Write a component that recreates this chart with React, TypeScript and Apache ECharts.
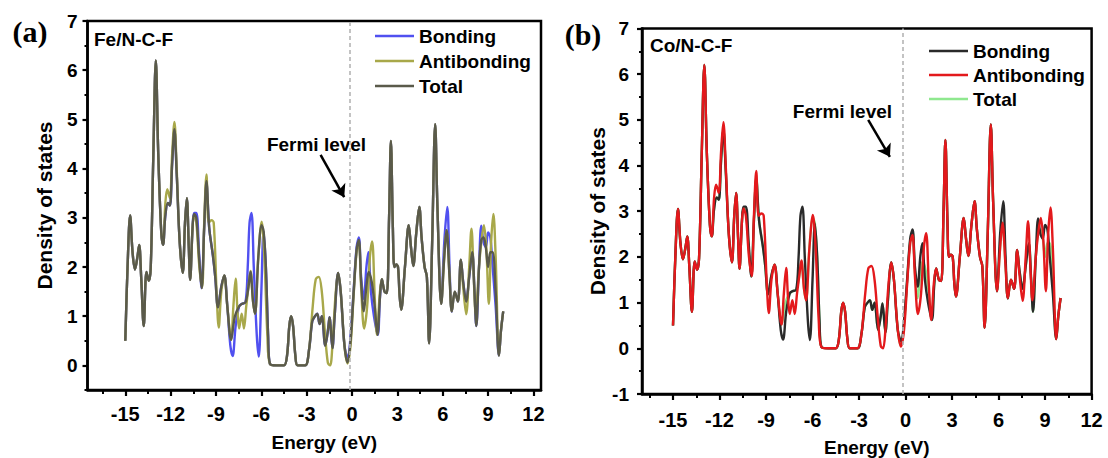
import React, { useEffect, useRef } from "react";
import * as echarts from "echarts";

// ---------------- data (energy in eV, density of states) ----------------
const X_MAJOR = [-15, -12, -9, -6, -3, 0, 3, 6, 9, 12];
const X_MINOR = [-16.5, -13.5, -10.5, -7.5, -4.5, -1.5, 1.5, 4.5, 7.5, 10.5];
const Y_MAJOR_A = [0, 1, 2, 3, 4, 5, 6, 7];
const Y_MINOR_A = [-0.5, 0.5, 1.5, 2.5, 3.5, 4.5, 5.5, 6.5];
const Y_MAJOR_B = [-1, 0, 1, 2, 3, 4, 5, 6, 7];
const Y_MINOR_B = [-0.5, 0.5, 1.5, 2.5, 3.5, 4.5, 5.5, 6.5];

const FERMI_LEVEL = -0.15;

const bonding: [number, number][] = [
  [-15, 0.5], [-14.85, 2.0], [-14.68, 3.05], [-14.52, 2.3], [-14.36, 1.95], [-14.2, 2.2], [-14.08, 2.45],
  [-13.95, 1.8], [-13.78, 0.8], [-13.6, 1.9], [-13.45, 1.72], [-13.32, 1.97], [-13.15, 4.2], [-12.98, 6.2],
  [-12.82, 4.3], [-12.62, 2.7], [-12.5, 2.45], [-12.35, 3.05], [-12.18, 3.3], [-12.05, 3.25], [-11.9, 4.1],
  [-11.75, 4.78], [-11.6, 3.9], [-11.4, 2.5], [-11.2, 1.88], [-11.05, 2.9], [-10.93, 3.4], [-10.8, 2.4],
  [-10.71, 1.74], [-10.55, 2.8], [-10.45, 3.1], [-10.3, 3.1], [-10.12, 2.3], [-9.95, 1.57], [-9.78, 2.8],
  [-9.63, 3.7], [-9.45, 2.8], [-9.2, 2.22], [-9.05, 1.8], [-8.87, 1.18], [-8.65, 1.6], [-8.45, 1.83],
  [-8.25, 1.2], [-8.05, 0.4], [-7.9, 0.19], [-7.7, 0.8], [-7.47, 1.2], [-7.3, 1.25], [-7.05, 1.28],
  [-6.9, 2.0], [-6.78, 2.9], [-6.65, 3.1], [-6.5, 2.0], [-6.3, 0.6], [-6.17, 0.18], [-6.0, 1.5],
  [-5.85, 2.73], [-5.7, 2.0], [-5.55, 0.6], [-5.43, 0.03], [-5.0, 0], [-4.5, 0], [-4.3, 0.2], [-4.15, 0.8],
  [-4.03, 1.0], [-3.9, 0.8], [-3.75, 0.2], [-3.6, 0], [-3.1, 0], [-2.84, 0.33], [-2.63, 0.9], [-2.45, 1.0],
  [-2.3, 1.05], [-2.15, 0.84], [-2.0, 1.0], [-1.77, 0.4], [-1.6, 0.7], [-1.49, 0.98], [-1.3, 0.35],
  [-1.15, 1.0], [-0.92, 1.88], [-0.75, 1.5], [-0.5, 0.4], [-0.28, 0.15], [-0.1, 0.6], [0.1, 1.5], [0.3, 2.4],
  [0.45, 2.6], [0.6, 1.8], [0.78, 1.35], [0.95, 2.0], [1.08, 2.3], [1.25, 1.5], [1.45, 1.0], [1.7, 0.62],
  [1.85, 1.4], [1.97, 1.75], [2.15, 1.5], [2.3, 1.47], [2.45, 3.0], [2.57, 4.56], [2.7, 2.8], [2.8, 2.0],
  [2.92, 2.05], [3.04, 2.0], [3.15, 1.4], [3.25, 1.13], [3.5, 2.0], [3.75, 2.85], [3.9, 2.4], [4.05, 2.02],
  [4.25, 2.7], [4.45, 3.22], [4.6, 2.6], [4.8, 2.0], [4.95, 1.8], [5.1, 0.45], [5.3, 2.5], [5.5, 4.9],
  [5.65, 3.2], [5.9, 1.25], [6.1, 2.5], [6.3, 3.22], [6.45, 2.0], [6.6, 1.09], [6.8, 1.5], [7.0, 1.3],
  [7.2, 2.15], [7.35, 1.7], [7.55, 1.3], [7.75, 1.8], [7.95, 2.3], [8.1, 1.5], [8.22, 0.8], [8.4, 2.0],
  [8.55, 2.84], [8.7, 2.5], [8.85, 2.4], [9.0, 2.7], [9.15, 2.6], [9.3, 2.0], [9.5, 1.2], [9.72, 0.2],
  [9.85, 0.7], [10.0, 1.1],
];

const antibonding: [number, number][] = [
  [-15, 0.5], [-14.85, 2.0], [-14.68, 3.05], [-14.52, 2.3], [-14.36, 1.95], [-14.2, 2.2], [-14.08, 2.45],
  [-13.95, 1.8], [-13.78, 0.8], [-13.6, 1.9], [-13.45, 1.72], [-13.32, 1.97], [-13.15, 4.2], [-12.98, 6.2],
  [-12.82, 4.3], [-12.62, 2.7], [-12.5, 2.45], [-12.35, 3.3], [-12.22, 3.58], [-12.05, 3.4], [-11.9, 4.3],
  [-11.75, 4.95], [-11.6, 4.0], [-11.4, 2.5], [-11.2, 1.88], [-11.05, 2.9], [-10.93, 3.4], [-10.8, 2.4],
  [-10.71, 1.74], [-10.55, 2.8], [-10.45, 3.06], [-10.3, 2.9], [-10.1, 2.0], [-9.92, 1.58], [-9.78, 2.9],
  [-9.63, 3.88], [-9.48, 2.9], [-9.3, 2.95], [-9.15, 2.9], [-8.95, 1.4], [-8.82, 0.77], [-8.65, 1.5],
  [-8.45, 1.83], [-8.25, 1.2], [-8.0, 0.52], [-7.85, 1.2], [-7.7, 1.76], [-7.58, 1.1], [-7.47, 0.75],
  [-7.3, 1.05], [-7.15, 0.75], [-7.0, 1.2], [-6.85, 1.6], [-6.72, 1.92], [-6.55, 1.3], [-6.42, 1.05],
  [-6.2, 2.2], [-5.98, 2.92], [-5.8, 2.2], [-5.6, 0.6], [-5.43, 0.03], [-5.0, 0], [-4.5, 0], [-4.3, 0.2],
  [-4.15, 0.8], [-4.03, 1.0], [-3.9, 0.8], [-3.75, 0.2], [-3.6, 0], [-3.1, 0], [-2.85, 0.3], [-2.6, 1.2],
  [-2.4, 1.75], [-2.2, 1.8], [-2.0, 1.5], [-1.8, 0.7], [-1.6, 0.05], [-1.45, 0.0], [-1.3, 0.4], [-1.1, 1.4],
  [-0.92, 1.88], [-0.75, 1.5], [-0.5, 0.4], [-0.3, 0.04], [-0.1, 0.4], [0.1, 1.4], [0.3, 2.3], [0.45, 2.48],
  [0.6, 1.6], [0.8, 0.75], [1.0, 1.2], [1.18, 2.2], [1.33, 2.52], [1.5, 1.4], [1.65, 0.62], [1.82, 1.4],
  [1.97, 1.75], [2.15, 1.5], [2.3, 1.47], [2.45, 3.0], [2.57, 4.56], [2.7, 2.8], [2.8, 2.0], [2.92, 2.05],
  [3.04, 2.0], [3.15, 1.4], [3.25, 1.13], [3.5, 2.0], [3.75, 2.85], [3.9, 2.4], [4.05, 2.02], [4.25, 2.7],
  [4.45, 3.22], [4.6, 2.6], [4.8, 2.0], [4.95, 1.8], [5.1, 0.45], [5.3, 2.5], [5.5, 4.9], [5.65, 3.2],
  [5.9, 1.25], [6.1, 2.2], [6.25, 2.75], [6.45, 1.8], [6.6, 1.1], [6.8, 1.5], [7.0, 1.3], [7.2, 2.15],
  [7.35, 1.6], [7.55, 1.04], [7.75, 2.0], [7.9, 2.78], [8.05, 1.8], [8.18, 1.05], [8.4, 2.0], [8.55, 2.5],
  [8.72, 2.85], [8.88, 2.4], [9.05, 1.25], [9.2, 2.5], [9.35, 3.08], [9.5, 2.2], [9.72, 0.2], [9.85, 0.7],
  [10.0, 1.1],
];

const total: [number, number][] = [
  [-15, 0.5], [-14.85, 2.0], [-14.68, 3.05], [-14.52, 2.3], [-14.36, 1.95], [-14.2, 2.2], [-14.08, 2.45],
  [-13.95, 1.8], [-13.78, 0.8], [-13.6, 1.9], [-13.45, 1.72], [-13.32, 1.97], [-13.15, 4.2], [-12.98, 6.2],
  [-12.82, 4.3], [-12.62, 2.7], [-12.5, 2.45], [-12.35, 3.05], [-12.18, 3.3], [-12.05, 3.25], [-11.9, 4.1],
  [-11.75, 4.8], [-11.6, 3.9], [-11.4, 2.5], [-11.2, 1.88], [-11.05, 2.9], [-10.93, 3.4], [-10.8, 2.4],
  [-10.71, 1.74], [-10.55, 2.8], [-10.45, 3.08], [-10.3, 3.0], [-10.12, 2.2], [-9.95, 1.57], [-9.78, 2.8],
  [-9.63, 3.75], [-9.45, 2.8], [-9.2, 2.22], [-9.05, 1.8], [-8.87, 1.18], [-8.65, 1.6], [-8.45, 1.83],
  [-8.25, 1.2], [-8.0, 0.52], [-7.75, 1.0], [-7.47, 1.2], [-7.3, 1.25], [-7.05, 1.28], [-6.85, 1.6],
  [-6.72, 1.9], [-6.55, 1.3], [-6.42, 1.05], [-6.2, 2.2], [-5.98, 2.85], [-5.85, 2.73], [-5.7, 2.0],
  [-5.55, 0.6], [-5.43, 0.03], [-5.0, 0], [-4.5, 0], [-4.3, 0.2], [-4.15, 0.8], [-4.03, 1.0], [-3.9, 0.8],
  [-3.75, 0.2], [-3.6, 0], [-3.1, 0], [-2.84, 0.33], [-2.63, 0.9], [-2.45, 1.0], [-2.3, 1.05], [-2.15, 0.84],
  [-2.0, 1.0], [-1.77, 0.4], [-1.6, 0.7], [-1.49, 0.98], [-1.3, 0.35], [-1.15, 1.0], [-0.92, 1.88],
  [-0.75, 1.5], [-0.5, 0.4], [-0.3, 0.06], [-0.1, 0.5], [0.1, 1.45], [0.3, 2.35], [0.45, 2.55], [0.6, 1.7],
  [0.78, 1.1], [0.95, 1.6], [1.1, 1.9], [1.3, 1.7], [1.5, 1.2], [1.68, 0.62], [1.85, 1.4], [1.97, 1.75],
  [2.15, 1.5], [2.3, 1.47], [2.45, 3.0], [2.57, 4.56], [2.7, 2.8], [2.8, 2.0], [2.92, 2.05], [3.04, 2.0],
  [3.15, 1.4], [3.25, 1.13], [3.5, 2.0], [3.75, 2.85], [3.9, 2.4], [4.05, 2.02], [4.25, 2.7], [4.45, 3.22],
  [4.6, 2.6], [4.8, 2.0], [4.95, 1.8], [5.1, 0.45], [5.3, 2.5], [5.5, 4.9], [5.65, 3.2], [5.9, 1.25],
  [6.1, 2.2], [6.25, 2.75], [6.45, 1.8], [6.6, 1.1], [6.8, 1.5], [7.0, 1.3], [7.2, 2.15], [7.35, 1.7],
  [7.55, 1.3], [7.75, 1.8], [7.95, 2.3], [8.1, 1.5], [8.22, 0.8], [8.4, 2.0], [8.55, 2.55], [8.7, 2.6],
  [8.85, 2.4], [9.0, 2.0], [9.15, 2.3], [9.3, 2.3], [9.5, 1.5], [9.72, 0.2], [9.85, 0.7], [10.0, 1.1],
];

// annotation anchors (data coordinates)
const FERMI_TEXT_A: [number, number] = [-2.35, 4.48];
const FERMI_ARROW_A: [number, number][] = [[-2.08, 4.28], [-0.52, 3.42]];
const FERMI_TEXT_B: [number, number] = [-4.07, 5.19];
const FERMI_ARROW_B: [number, number][] = [[-2.41, 5.0], [-1.01, 4.19]];

const SANS = "'Liberation Sans', Arial, Helvetica, sans-serif";
const SERIF = "'Liberation Serif', 'Times New Roman', serif";

const COLORS_A = { bonding: "#5050f0", antibonding: "#a8a84a", total: "#5a5a4a" };
const COLORS_B = { bonding: "#2a2a2a", antibonding: "#e3191c", total: "#8fe88f" };

function xAxes(gridIndex: number, min: number, max: number, labelMargin: number, nameGap: number) {
  return [
    {
      type: "value", gridIndex, min, max, position: "bottom",
      axisLine: { show: true, onZero: false, lineStyle: { color: "#000", width: 2.5 } },
      axisTick: { show: true, inside: false, length: 6, customValues: X_MAJOR, lineStyle: { color: "#000", width: 2.2 } },
      axisLabel: {
        customValues: X_MAJOR, margin: labelMargin, color: "#000", fontSize: 20, fontWeight: "bold", fontFamily: SANS,
        alignMinLabel: "center", alignMaxLabel: "center", hideOverlap: false,
      },
      splitLine: { show: false },
      name: "Energy (eV)", nameLocation: "middle", nameGap,
      nameTextStyle: { color: "#000", fontSize: 19, fontWeight: "bold", fontFamily: SANS, padding: [0, 0, 0, 20] },
    },
    {
      type: "value", gridIndex, min, max, position: "bottom",
      axisLine: { show: false, onZero: false },
      axisTick: { show: true, inside: false, length: 4, customValues: X_MINOR, lineStyle: { color: "#000", width: 2 } },
      axisLabel: { show: false },
      splitLine: { show: false },
    },
  ];
}

function yAxes(gridIndex: number, min: number, max: number, major: number[], minor: number[], labelMargin: number) {
  return [
    {
      type: "value", gridIndex, min, max, position: "left",
      axisLine: { show: true, onZero: false, lineStyle: { color: "#000", width: 2.5 } },
      axisTick: { show: true, inside: false, length: 5, customValues: major, lineStyle: { color: "#000", width: 2.2 } },
      axisLabel: { customValues: major, margin: labelMargin, color: "#000", fontSize: 19, fontWeight: "bold", fontFamily: SANS },
      splitLine: { show: false },
      name: "Density of states", nameLocation: "middle", nameGap: 33,
      nameTextStyle: { color: "#000", fontSize: 21, fontWeight: "bold", fontFamily: SANS },
    },
    {
      type: "value", gridIndex, min, max, position: "left",
      axisLine: { show: false, onZero: false },
      axisTick: { show: true, inside: false, length: 3, customValues: minor, lineStyle: { color: "#000", width: 2 } },
      axisLabel: { show: false },
      splitLine: { show: false },
    },
  ];
}

function lineSeries(name: string, data: [number, number][], color: string, xi: number, yi: number, z: number, extra: any = {}) {
  return {
    type: "line", name, data, xAxisIndex: xi, yAxisIndex: yi, z,
    showSymbol: false, symbol: "none", smooth: 0.35, silent: true,
    lineStyle: { color, width: 2.4 }, itemStyle: { color },
    ...extra,
  };
}

function fermiLine() {
  return {
    silent: true, symbol: ["none", "none"], label: { show: false },
    lineStyle: { color: "#b5b5b5", type: [4, 3], width: 1.6 },
    data: [{ xAxis: FERMI_LEVEL }],
  };
}

function arrowLine(pts: [number, number][]) {
  return {
    silent: true, symbol: ["none", "arrow"], symbolSize: 12, label: { show: false },
    lineStyle: { color: "#000", type: "solid", width: 2.5 },
    itemStyle: { color: "#000" },
    data: [[{ coord: pts[0] }, { coord: pts[1] }]],
  };
}

function legend(left: number, top: number, gap: number, colors: any) {
  return {
    left, top, orient: "vertical", icon: "rect", itemWidth: 39, itemHeight: 2.5, itemGap: gap,
    padding: 0, selectedMode: false,
    textStyle: { color: "#000", fontSize: 19, fontWeight: "bold", fontFamily: SANS },
    data: [
      { name: "Bonding", itemStyle: { color: colors.bonding } },
      { name: "Antibonding", itemStyle: { color: colors.antibonding } },
      { name: "Total", itemStyle: { color: colors.total } },
    ],
  };
}

export default function App() {
  const ref = useRef<HTMLDivElement>(null);
  useEffect(() => {
    const chart = echarts.init(ref.current!, null, { renderer: "svg" });
    const option: any = {
      animation: false,
      backgroundColor: "#fff",
      grid: [
        { left: 87.5, top: 21, width: 453.5, height: 369, show: true, borderColor: "#000", borderWidth: 2.5, outerBoundsMode: "none" },
        { left: 642, top: 28.4, width: 449.6, height: 365.6, show: true, borderColor: "#000", borderWidth: 2.5, outerBoundsMode: "none" },
      ],
      xAxis: [...xAxes(0, -17.5, 12.5, 14, 43), ...xAxes(1, -17, 12, 16, 44)],
      yAxis: [
        ...yAxes(0, -0.5, 7, Y_MAJOR_A, Y_MINOR_A, 10),
        ...yAxes(1, -1, 7, Y_MAJOR_B, Y_MINOR_B, 13),
      ],
      legend: [legend(375, 26.5, 6, COLORS_A), legend(929, 41.5, 5, COLORS_B)],
      series: [
        lineSeries("Bonding", bonding, COLORS_A.bonding, 0, 0, 2, { markLine: fermiLine() }),
        lineSeries("Antibonding", antibonding, COLORS_A.antibonding, 0, 0, 3, { markLine: arrowLine(FERMI_ARROW_A) }),
        lineSeries("Total", total, COLORS_A.total, 0, 0, 4),
        lineSeries("Total", total, COLORS_B.total, 2, 2, 2, { markLine: fermiLine() }),
        lineSeries("Bonding", bonding, COLORS_B.bonding, 2, 2, 3, { markLine: arrowLine(FERMI_ARROW_B) }),
        lineSeries("Antibonding", antibonding, COLORS_B.antibonding, 2, 2, 4),
      ],
    };
    chart.setOption(option);

    const pa = chart.convertToPixel({ gridIndex: 0 }, FERMI_TEXT_A) as number[];
    const pb = chart.convertToPixel({ gridIndex: 1 }, FERMI_TEXT_B) as number[];
    const txt = (x: number, y: number, text: string, size: number, family: string, align = "center") => ({
      type: "text", x, y, silent: true,
      style: { text, fill: "#000", font: `bold ${size}px ${family}`, textAlign: align, textVerticalAlign: "middle" },
    });
    chart.setOption({
      graphic: [
        txt(30, 31, "(a)", 30, SERIF),
        txt(583, 34, "(b)", 30, SERIF),
        txt(94, 39, "Fe/N-C-F", 19, SANS, "left"),
        txt(650, 45.5, "Co/N-C-F", 19, SANS, "left"),
        txt(pa[0], pa[1], "Fermi level", 19, SANS),
        txt(pb[0], pb[1], "Fermi level", 19, SANS),
      ],
    });
    return () => chart.dispose();
  }, []);
  return (
    <div
      ref={ref}
      style={{ position: "absolute", left: 0, top: 0, width: 1108, height: 458, background: "#fff" }}
    />
  );
}
